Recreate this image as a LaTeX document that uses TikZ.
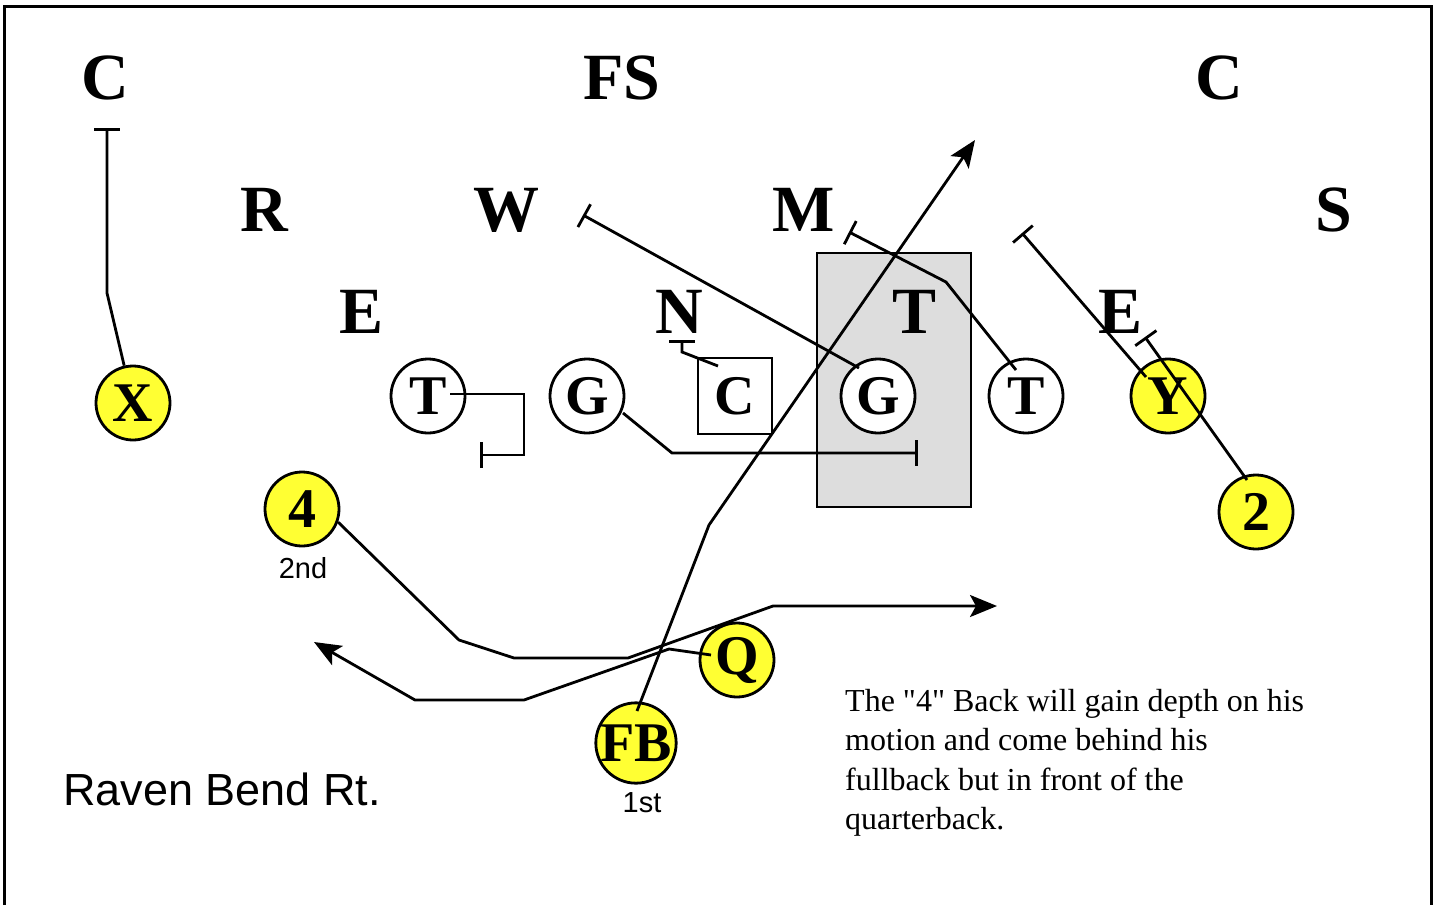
\documentclass[tikz,border=0pt]{standalone}
\usepackage{fontspec}
\setmainfont{Liberation Serif}
\newfontfamily\arialf{Liberation Sans}
\newfontfamily\notefont{Liberation Serif}[Ligatures=TeXOff]
\usetikzlibrary{arrows.meta,calc}
\definecolor{plyellow}{RGB}{255,255,51}
\definecolor{boxgray}{RGB}{221,221,221}
\begin{document}
\begin{tikzpicture}[x=1pt,y=-1pt,
  deflbl/.style={inner sep=0pt, font=\fontsize{66}{70}\selectfont\bfseries},
  player/.style={circle, draw, line width=2.8pt, minimum size=74pt, inner sep=0pt, fill=white, font=\fontsize{56}{60}\selectfont\bfseries},
  skill/.style={player, fill=plyellow},
  centerbox/.style={rectangle, draw, line width=2.8pt, minimum width=74pt, minimum height=76pt, inner sep=0pt, fill=white, font=\fontsize{56}{60}\selectfont\bfseries},
  route/.style={line width=2.8pt},
  blockroute/.style={route, -{Bar[width=26pt]}},
  arrowroute/.style={route, -{Stealth[length=27pt,width=22pt,inset=6pt]}},
  smalllbl/.style={inner sep=0pt, font=\arialf\fontsize{29}{32}\selectfont},
]
\useasboundingbox (0,0) rectangle (1437,905);
\draw[line width=3pt] (4,905) -- (4,6) -- (1431,6) -- (1431,905);

% shaded area
\node[draw, line width=2.8pt, fill=boxgray, minimum width=154pt, minimum height=254pt, inner sep=0pt] (shade) at (894,380) {};

% defense
\node[deflbl] (cl) at (105,78) {C};
\node[deflbl] (fs) at (622,78) {FS};
\node[deflbl] (cr) at (1219,78) {C};
\node[deflbl] (r) at (264,210) {R};
\node[deflbl] (w) at (506,210) {W};
\node[deflbl] (m) at (804,210) {M};
\node[deflbl] (s) at (1334,210) {S};
\node[deflbl] (el) at (362,312) {E};
\node[deflbl] (n) at (679,312) {N};
\node[deflbl] (t) at (914,312) {T};
\node[deflbl] (er) at (1120,312) {E};

% offense
\node[skill] (X) at (133,403) {X};
\node[player] (T1) at (428,396) {T};
\node[player] (G1) at (587,396) {G};
\node[centerbox] (Cb) at (735,396) {C};
\node[player] (G2) at (878,396) {G};
\node[player] (T2) at (1026,396) {T};
\node[skill] (Y) at (1168,396) {Y};
\node[skill] (two) at (1256,512) {2};
\node[skill] (four) at (302,509) {4};
\node[skill] (Q) at (737,660) {Q};
\node[skill] (FB) at (636,743) {FB};

% labels
\node[smalllbl] (lbl2nd) at (303,568) {2nd};
\node[smalllbl] (lbl1st) at (642,803) {1st};
\node[inner sep=0pt, anchor=west, font=\arialf\fontsize{45}{50}\selectfont] (title) at (63,789) {Raven Bend Rt.};
\node[inner sep=0pt, anchor=north west, align=left, font=\notefont\fontsize{32}{39.5}\selectfont] (note) at (845,689)
  {The "4" Back will gain depth on his\\motion and come behind his\\fullback but in front of the\\quarterback.};

% coordinates
\coordinate (xbend) at (107,293);
\coordinate (xend) at (107,128);
\coordinate (wend) at (583,215);
\coordinate (mbend) at (946,282);
\coordinate (mend) at (849,232);
\coordinate (eend1) at (1022,233);
\coordinate (eend2) at (1145,337);
\coordinate (t1a) at (524,394);
\coordinate (t1b) at (524,455);
\coordinate (t1end) at (480,455);
\coordinate (g1a) at (672,453);
\coordinate (g1end) at (918,453);
\coordinate (ca) at (682,352);
\coordinate (cend) at (682,340);
\coordinate (fba) at (709,525);
\coordinate (fbend) at (975,140);
\coordinate (f1) at (459,640);
\coordinate (f2) at (514,658);
\coordinate (f3) at (628,658);
\coordinate (f4) at (773,606);
\coordinate (fend) at (997,606);
\coordinate (q1) at (669,649);
\coordinate (q2) at (524,700);
\coordinate (q3) at (415,700);
\coordinate (qend) at (314,642);

% blocks
\draw[blockroute] (X) -- (xbend) -- (xend);
\draw[blockroute] ($(G2.center)+(-19,-28)$) -- (wend);
\draw[blockroute] ($(T2.center)+(-10,-26)$) -- (mbend) -- (mend);
\draw[blockroute] ($(Y.center)+(-22,-19)$) -- (eend1);
\draw[blockroute] ($(two.center)+(-9,-32)$) -- (eend2);
\draw[blockroute] ($(T1.center)+(22,-2)$) -- (t1a) -- (t1b) -- (t1end);
\draw[blockroute] ($(G1.center)+(36,17)$) -- (g1a) -- (g1end);
\draw[blockroute] ($(Cb.center)+(-17,-30)$) -- (ca) -- (cend);

% routes
\draw[arrowroute] ($(FB.center)+(1,-32)$) -- (fba) -- (fbend);
\draw[arrowroute] ($(four.center)+(36,13)$) -- (f1) -- (f2) -- (f3) -- (f4) -- (fend);
\draw[arrowroute] ($(Q.center)+(-26,-5)$) -- (q1) -- (q2) -- (q3) -- (qend);
\end{tikzpicture}
\end{document}
